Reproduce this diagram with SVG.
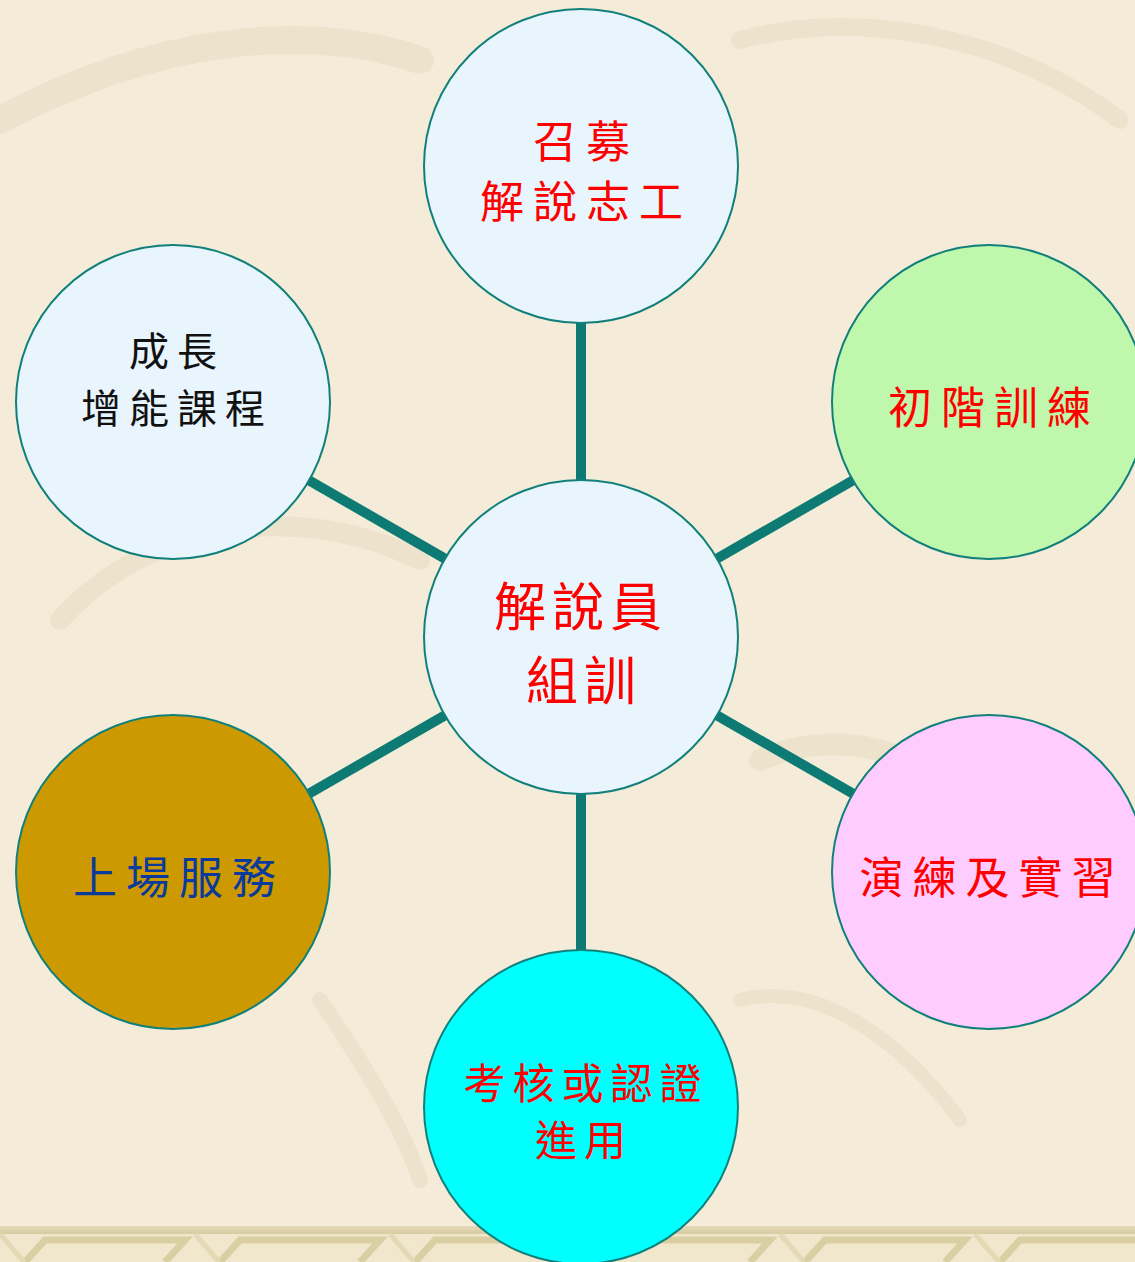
<svg xmlns="http://www.w3.org/2000/svg" width="1135" height="1262" viewBox="0 0 1135 1262">
<defs>
<style>
.node{stroke:#11807a;stroke-width:2}
.t{font-family:"Noto Sans CJK TC","Noto Sans CJK SC",sans-serif;text-anchor:middle;font-size:44px;letter-spacing:9px}
.red{fill:#ff0000}
.blk{fill:#111111}
.blu{fill:#0a3a9c}
.bg-stroke{fill:none;stroke:#ebe1c9;stroke-linecap:round}
</style>
<linearGradient id="band" x1="0" y1="0" x2="0" y2="1">
<stop offset="0" stop-color="#e4dbb8"/>
<stop offset="1" stop-color="#d6cba0"/>
</linearGradient>
</defs>
<rect width="1135" height="1262" fill="#f4ecd9"/>
<g id="texture" opacity="0.8">
<path class="bg-stroke" stroke-width="28" d="M0,120 C150,40 300,20 420,60"/>
<path class="bg-stroke" stroke-width="20" d="M60,620 C150,520 300,500 420,560"/>
<path class="bg-stroke" stroke-width="18" d="M740,40 C850,10 1000,30 1120,120"/>
<path class="bg-stroke" stroke-width="22" d="M760,760 C850,720 950,760 1000,840"/>
<path class="bg-stroke" stroke-width="16" d="M320,1000 C360,1060 400,1120 420,1180"/>
<path class="bg-stroke" stroke-width="14" d="M740,1000 C820,980 900,1040 960,1120"/>
</g>
<g id="border">
<rect x="0" y="1226" width="1135" height="36" fill="#f1e7cc"/>
<rect x="0" y="1226" width="1135" height="8" fill="url(#band)"/>
<g fill="none" stroke="#d9cfa3" stroke-width="7">
<path d="M25,1262 L45,1240 L185,1240 L165,1262"/>
<path d="M220,1262 L240,1240 L380,1240 L360,1262"/>
<path d="M415,1262 L435,1240 L575,1240 L555,1262"/>
<path d="M610,1262 L630,1240 L770,1240 L750,1262"/>
<path d="M805,1262 L825,1240 L965,1240 L945,1262"/>
<path d="M1000,1262 L1020,1240 L1135,1240"/>
</g>
<g fill="none" stroke="#e3d9b5" stroke-width="5">
<path d="M0,1234 L24,1262"/>
<path d="M195,1234 L219,1262"/>
<path d="M390,1234 L414,1262"/>
<path d="M585,1234 L609,1262"/>
<path d="M780,1234 L804,1262"/>
<path d="M975,1234 L999,1262"/>
</g>
</g>
<g id="connectors" stroke="#0e7a74" stroke-width="10">
<line x1="581" y1="637" x2="581" y2="166"/>
<line x1="581" y1="637" x2="581" y2="1107"/>
<line x1="581" y1="637" x2="173" y2="402"/>
<line x1="581" y1="637" x2="989" y2="402"/>
<line x1="581" y1="637" x2="173" y2="872"/>
<line x1="581" y1="637" x2="989" y2="872"/>
</g>
<g id="node-top">
<circle class="node" cx="581" cy="166" r="157" fill="#e8f5fd"/>
<text class="t red" x="586" y="158">召募</text>
<text class="t red" x="586" y="218">解說志工</text>
</g>
<g id="node-upper-left">
<circle class="node" cx="173" cy="402" r="157" fill="#e8f5fd"/>
<text class="t blk" x="177" y="366" style="font-size:40px;letter-spacing:8px">成長</text>
<text class="t blk" x="177" y="423" style="font-size:40px;letter-spacing:8px">增能課程</text>
</g>
<g id="node-upper-right">
<circle class="node" cx="989" cy="402" r="157" fill="#bff7ad"/>
<text class="t red" x="994" y="424">初階訓練</text>
</g>
<g id="node-center">
<circle class="node" cx="581" cy="637" r="157" fill="#e8f5fd"/>
<text class="t red" x="581" y="626" style="font-size:52px;letter-spacing:6px">解說員</text>
<text class="t red" x="584" y="700" style="font-size:52px;letter-spacing:6px">組訓</text>
</g>
<g id="node-lower-left">
<circle class="node" cx="173" cy="872" r="157" fill="#cc9900"/>
<text class="t blu" x="179" y="894">上場服務</text>
</g>
<g id="node-lower-right">
<circle class="node" cx="989" cy="872" r="157" fill="#ffccff"/>
<text class="t red" x="992" y="894">演練及實習</text>
</g>
<g id="node-bottom">
<circle class="node" cx="581" cy="1107" r="157" fill="#00ffff"/>
<text class="t red" x="586" y="1099" style="font-size:42px;letter-spacing:7px">考核或認證</text>
<text class="t red" x="584" y="1156" style="font-size:42px;letter-spacing:7px">進用</text>
</g>
</svg>
